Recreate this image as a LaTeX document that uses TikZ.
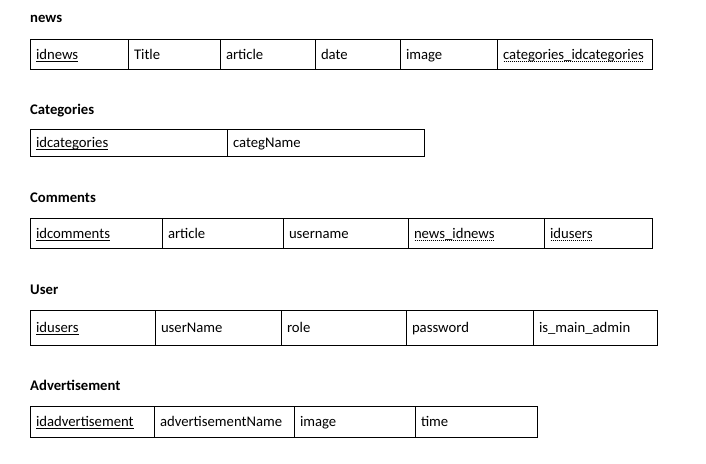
\documentclass[tikz,border=0pt]{standalone}
\usepackage{fontspec}
\setmainfont{Carlito}
\usetikzlibrary{positioning}

% key underlines: solid for primary, dotted for foreign
\newcommand{\pkey}[1]{\setbox0=\hbox{#1}\rlap{\raisebox{-2.6pt}{\rule{\wd0}{0.75pt}}}\box0}
\newcommand{\fkey}[1]{\setbox0=\hbox{#1}\rlap{\raisebox{-2.6pt}{\hbox to \wd0{\xleaders\hbox to 2pt{\hss\rule{0.9pt}{0.75pt}\hss}\hfill}}}\box0}

\tikzset{
  every cell/.style={},
  cell/.style={draw, line width=0.75pt, anchor=north west, minimum height=30pt,
    text width=#1pt-12pt, inner xsep=6pt, inner ysep=0pt, outer sep=0pt, align=left,
    text height=12pt, text depth=2pt, font=\fontsize{14.7}{17}\selectfont, every cell},
  tabname/.style={anchor=base west, inner sep=0pt, font=\fontsize{14.7}{17}\selectfont\bfseries},
}

\begin{document}
\begin{tikzpicture}[x=1pt, y=-1pt]
    \useasboundingbox (0,0) rectangle (706,463);

    % news table
    \node[tabname] (hNews) at (30,22) {news};
    \node[cell=98] (newsId) at (30,39) {\pkey{idnews}};
    \node[cell=92, right=0pt of newsId] (newsTitle) {Title};
    \node[cell=95, right=0pt of newsTitle] (newsArticle) {article};
    \node[cell=85, right=0pt of newsArticle] (newsDate) {date};
    \node[cell=97, right=0pt of newsDate] (newsImage) {image};
    \node[cell=155, right=0pt of newsImage] (newsCat) {\fkey{categories\_idcategories}};

    % Categories table
    \node[tabname] (hCat) at (30,114) {Categories};
    \begin{scope}[every cell/.style={minimum height=27pt}]
    \node[cell=197] (catId) at (30,129) {\pkey{idcategories}};
    \node[cell=197, right=0pt of catId] (catName) {categName};
    \end{scope}

    % Comments table
    \node[tabname] (hCom) at (30,202) {Comments};
    \node[cell=132] (comId) at (30,218) {\pkey{idcomments}};
    \node[cell=121, right=0pt of comId] (comArticle) {article};
    \node[cell=125, right=0pt of comArticle] (comUser) {username};
    \node[cell=136, right=0pt of comUser] (comNews) {\fkey{news\_idnews}};
    \node[cell=108, right=0pt of comNews] (comUsers) {\fkey{idusers}};

    % User table
    \node[tabname] (hUser) at (30,294) {User};
    \begin{scope}[every cell/.style={minimum height=35pt}]
    \node[cell=125] (userId) at (30,310) {\pkey{idusers}};
    \node[cell=126, right=0pt of userId] (userName) {userName};
    \node[cell=125, right=0pt of userName] (userRole) {role};
    \node[cell=127, right=0pt of userRole] (userPass) {password};
    \node[cell=124, right=0pt of userPass] (userAdmin) {is\_main\_admin};
    \end{scope}

    % Advertisement table
    \node[tabname] (hAdv) at (30,390) {Advertisement};
    \begin{scope}[every cell/.style={minimum height=31pt}]
    \node[cell=124] (advId) at (30,406) {\pkey{idadvertisement}};
    \node[cell=140, right=0pt of advId] (advName) {advertisementName};
    \node[cell=121, right=0pt of advName] (advImage) {image};
    \node[cell=122, right=0pt of advImage] (advTime) {time};
    \end{scope}
\end{tikzpicture}
\end{document}
